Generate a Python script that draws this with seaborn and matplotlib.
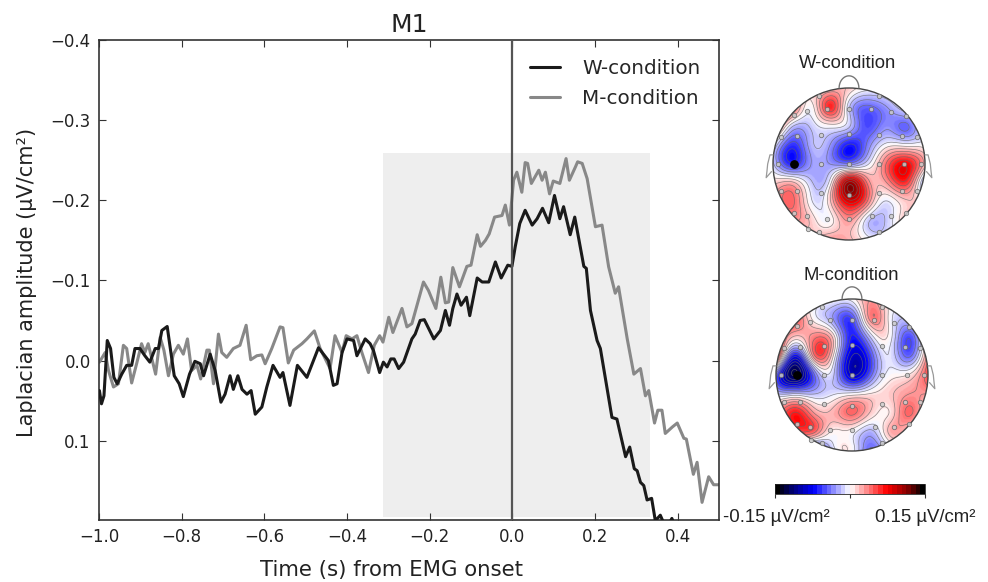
import numpy as np
import pandas as pd
import matplotlib
matplotlib.use("Agg")
import matplotlib.pyplot as plt
from matplotlib.colors import LinearSegmentedColormap, Normalize
from matplotlib.patches import Circle, Rectangle
from matplotlib.cm import ScalarMappable
import seaborn as sns

# ---- waveform data -------------------------------------------------------
time_w = [-.999,-.994,-.988,-.980,-.972,-.964,-.956,-.945,-.933,-.921,-.913,-.901,-.889,-.877,-.864,-.856,-.848,-.835,-.828,-.818,
          -.806,-.796,-.781,-.768,-.755,-.747,-.731,-.719,-.705,-.695,-.683,-.675,-.664,-.654,-.642,-.632,-.622,-.606,-.594,-.579,
          -.562,-.555,-.538,-.520,-.497,-.469,-.445,-.433,-.424,-.412,-.400,-.384,-.376,-.356,-.344,-.336,-.321,-.312,-.303,-.294,
          -.286,-.275,-.263,-.243,-.235,-.223,-.213,-.190,-.174,-.162,-.152,-.144,-.134,-.124,-.111,-.103,-.085,-.073,-.057,-.041,
          -.027,-.011,-.001,.007,.018,.031,.048,.060,.073,.088,.102,.115,.124,.140,.151,.173,.179,.189,.205,.213,
          .241,.253,.274,.284,.295,.302,.310,.318,.326,.337,.346,.358,.368,.378,.386,.392,.42]
amp_w = [.0375,.054,.044,-.025,-.015,.021,.029,.017,.006,.006,-.015,-.015,-.006,.002,-.015,-.015,-.0375,-.0425,-.017,.019,
         .029,.045,.017,.001,.004,.019,-.008,.0125,.052,.042,.019,.036,.019,.036,.042,.0375,.067,.058,.033,.006,
         .021,.015,.056,.006,.021,-.016,0,.031,.029,-.010,-.027,-.025,-.006,-.027,-.021,-.0125,.015,.002,.008,-.002,
         -.002,.010,.002,-.027,-.033,-.050,-.051,-.027,-.0375,-.0625,-.044,-.065,-.083,-.069,-.079,-.056,-.103,-.098,-.098,-.123,
         -.103,-.119,-.1175,-.142,-.171,-.1875,-.169,-.177,-.190,-.172,-.206,-.177,-.192,-.157,-.179,-.1175,-.115,-.0625,-.025,-.015,
         .071,.073,.120,.108,.135,.1375,.152,.156,.174,.172,.200,.193,.205,.205,.197,.205,.23]
time_m = [-.999,-.985,-.977,-.965,-.953,-.941,-.933,-.921,-.909,-.897,-.889,-.881,-.863,-.852,-.843,-.832,-.820,-.808,-.796,-.786,
          -.776,-.763,-.754,-.739,-.733,-.723,-.711,-.703,-.691,-.675,-.659,-.644,-.633,-.618,-.606,-.598,-.582,-.562,-.555,-.542,
          -.529,-.509,-.497,-.479,-.465,-.441,-.429,-.412,-.402,-.388,-.376,-.364,-.348,-.334,-.321,-.313,-.299,-.289,-.267,-.255,
          -.243,-.215,-.203,-.185,-.173,-.162,-.154,-.144,-.128,-.110,-.100,-.085,-.077,-.065,-.056,-.043,-.025,-.017,-.007,.003,
          .011,.023,.031,.037,.046,.064,.072,.080,.090,.099,.115,.130,.138,.153,.158,.169,.181,.201,.217,.233,
          .249,.257,.278,.294,.310,.322,.330,.344,.352,.362,.370,.387,.399,.415,.421,.438,.447,.459,.475,.487,.499]
amp_m = [.002,-.010,.0125,.033,.029,-.019,-.015,.028,.004,-.021,-.010,-.021,.017,-.029,-.013,.019,-.008,-.019,-.008,-.027,
         .0125,.006,.023,-.013,-.013,.029,-.033,-.010,-.004,-.015,-.019,-.044,-.001,-.006,-.007,.004,-.015,-.042,-.041,.003,
         -.013,-.021,-.027,-.037,-.015,.010,-.031,-.010,-.031,-.027,-.031,-.010,.015,-.019,-.031,-.023,-.054,-.035,-.065,-.042,
         -.046,-.098,-.0875,-.065,-.104,-.072,-.073,-.116,-.092,-.1175,-.119,-.157,-.1425,-.150,-.158,-.179,-.181,-.194,-.169,-.225,
         -.235,-.210,-.247,-.246,-.221,-.2375,-.225,-.235,-.208,-.224,-.221,-.252,-.225,-.242,-.248,-.246,-.227,-.167,-.169,-.117,
         -.084,-.092,-.027,.017,.010,.044,.0375,.078,.062,.062,.091,.083,.078,.097,.098,.142,.127,.177,.145,.155,.155]
series_names = ["W-condition", "M-condition"]
xticks_main = [-1.0, -0.8, -0.6, -0.4, -0.2, 0.0, 0.2, 0.4]
yticks_main = [-0.4, -0.3, -0.2, -0.1, 0.0, 0.1]

# ---- scalp maps: normalised amplitude (+-1 = +-0.15 uV/cm2), on a 9x9 grid, top row first
grid_axis = [-1, -.75, -.5, -.25, 0, .25, .5, .75, 1]
scalp_w = [[0,0,0,.12,.1,0,0,0,0],
           [.3,.3,0,.42,-.1,-.3,-.2,-.05,0],
           [.4,-.1,-.1,0,-.1,-.35,-.22,-.3,-.05],
           [0,-.4,-.15,-.2,-.45,-.25,0,0,0],
           [-.1,-.42,-.2,-.2,-.25,-.05,.3,.5,.15],
           [.1,.15,-.1,0,.72,.25,.2,.4,-.2],
           [.15,.3,-.02,.1,.55,.25,-.05,.1,0],
           [0,.2,.1,0,.2,-.1,-.1,.1,0],
           [0,0,.1,.2,.15,0,-.05,0,0]]
scalp_m = [[0,0,0,0,0,.2,0,0,0],
           [.2,.3,0,-.2,-.35,.25,0,-.1,.1],
           [.5,.1,.25,.1,-.45,-.1,0,-.35,.15],
           [.5,-.5,.25,.05,-.6,-.35,-.05,-.3,.25],
           [-.3,-.85,-.3,-.1,-.6,-.3,0,.05,.35],
           [-.1,-.1,-.12,-.05,0,.05,.1,.2,.2],
           [.2,.45,.2,.15,.3,.1,.05,.3,.05],
           [.2,.35,.3,.02,0,-.15,.15,.1,0],
           [0,0,-.5,-.1,0,-.3,-.1,0,0]]
sensor_x = [-.4,0,.4,-.55,-.29,.29,.55,.75,-.73,-.9,-.68,-.37,0,.39,.7,.9,-.94,-.37,0,.39,.73,.95,
            -.9,-.68,-.37,0,.39,.7,.9,-.73,-.55,-.29,0,.3,.55,.75,-.4,.4,-.54]
sensor_y = [.89,.73,.89,.7,.72,.72,.69,.63,.65,.35,.37,.38,.39,.38,.37,.35,0,0,0,0,0,0,
            -.35,-.36,-.38,-.41,-.38,-.36,-.35,-.64,-.68,-.73,-.73,-.68,-.68,-.64,-.89,-.89,-.85]
active_sensor = (-.72, 0.0)
map_titles = ["W-condition", "M-condition"]
cbar_labels = ["-0.15 µV/cm²", "0.15 µV/cm²"]
cbar_range = (-0.15, 0.15)

# ---- style ---------------------------------------------------------------
sns.set_style("white")
plt.rcParams["font.family"] = ["DejaVu Sans"]
W, H = 988, 582
fig = plt.figure(figsize=(W / 100, H / 100), dpi=100)

def px_axes(x0, y0, x1, y1, **kw):
    return fig.add_axes([x0 / W, 1 - y1 / H, (x1 - x0) / W, (y1 - y0) / H], **kw)

# ---- main panel ----------------------------------------------------------
ax = px_axes(99, 40, 719, 520)
ax.add_patch(Rectangle((-.312, -.259), .644, .454, color="#eeeeee", lw=0, zorder=0))
df_w = pd.DataFrame({"t": time_w, "a": amp_w})
df_m = pd.DataFrame({"t": time_m, "a": amp_m})
sns.lineplot(data=df_m, x="t", y="a", ax=ax, color="#888888", lw=2.2, estimator=None, sort=False, zorder=2,
             label=series_names[1], solid_joinstyle="round")
sns.lineplot(data=df_w, x="t", y="a", ax=ax, color="#1a1a1a", lw=2.2, estimator=None, sort=False, zorder=3,
             label=series_names[0], solid_joinstyle="round")
ax.axvline(0, color="#555555", lw=1.6, zorder=4)
ax.set_xlim(-1.0, 0.5)
ax.set_ylim(0.199, -0.4)
ax.set_xticks(xticks_main)
ax.set_yticks(yticks_main)
ax.tick_params(direction="in", bottom=True, left=True, top=True, right=True, length=5, width=0.8,
               labelsize=12, pad=6, color="#333333", labelcolor="#222222")
for s in ax.spines.values():
    s.set_color("#333333"); s.set_linewidth(1.2)
ax.set_xlabel("Time (s) from EMG onset", fontsize=15.3, color="#222222")
ax.xaxis.set_label_coords(0.472, -0.083)
ax.set_ylabel("Laplacian amplitude (µV/cm²)", fontsize=15, color="#222222")
ax.yaxis.set_label_coords(-0.1, 0.495)
ax.set_title("M1", fontsize=18, pad=6, color="#222222")
h, l = ax.get_legend_handles_labels()
ax.legend(h[::-1], l[::-1], frameon=False, fontsize=14.3, loc="upper right",
          bbox_to_anchor=(1.0, 1.0), handlelength=1.5, labelspacing=0.55, handletextpad=1.1, borderaxespad=0.55)

# ---- scalp maps ----------------------------------------------------------
cmap = LinearSegmentedColormap.from_list(
    "scalp", [(0, "#000000"), (.1, "#00006e"), (.25, "#0000ff"), (.5, "#ffffff"),
              (.75, "#ff0000"), (.9, "#800000"), (1, "#000000")], N=64)
norm = Normalize(-1, 1)

gx, gy = np.meshgrid(grid_axis, grid_axis[::-1])
nodes = np.column_stack([gx.ravel(), gy.ravel()])
fine = np.linspace(-1, 1, 240)
fx, fy = np.meshgrid(fine, fine)
def upsample(grid):
    v = np.asarray(grid, float).ravel()
    d = np.linalg.norm(nodes[:, None] - nodes[None], axis=2)
    w = np.linalg.solve(d ** 3, v)
    q = np.column_stack([fx.ravel(), fy.ravel()])
    dq = np.linalg.norm(q[:, None] - nodes[None], axis=2)
    return (dq ** 3 @ w).reshape(fx.shape)

def scalp(grid, cx, cy, r, title):
    pad = 1.3
    a = px_axes(cx - r * pad, cy - r * pad, cx + r * pad, cy + r * pad)
    a.set_xlim(-pad, pad); a.set_ylim(-pad, pad); a.axis("off")
    z = upsample(grid)
    clip = Circle((0, 0), 1, transform=a.transData)
    im = a.imshow(z, extent=(-1, 1, -1, 1), origin="lower", cmap=cmap, norm=norm, interpolation="bilinear", zorder=1)
    im.set_clip_path(clip)
    cs = a.contour(fx, fy, z, levels=np.arange(-1, 1.01, .08), colors="#666666", linewidths=.5,
                   linestyles="solid", alpha=.75, zorder=2)
    cs.set_clip_path(clip)
    a.add_patch(Circle((0, 0), 1, fill=False, ec="#444444", lw=1.0, zorder=3))
    nose_t = np.linspace(0, np.pi, 40)
    a.plot(.13 * np.cos(nose_t), 1.0 + .16 * np.sin(nose_t), color="#777777", lw=1, zorder=3)
    for side in (-1, 1):
        a.plot(side * np.array([1, 1.04, 1.07, 1.08, 1.09, 1.02]), [.12, .12, 0, -.1, -.18, -.1], color="#999999", lw=.9, zorder=3)
    a.scatter(sensor_x, sensor_y, s=10, fc="#cccccc", ec="#666666", lw=.6, alpha=.85, zorder=4)
    a.scatter(*active_sensor, s=28, c="black", zorder=5)
    fig.text((cx - 1) / W, 1 - (cy - r - 24) / H, title, ha="center", va="center", fontsize=13.3,
             family="Liberation Sans", color="#222222")

scalp(scalp_w, 849, 164, 76, map_titles[0])
scalp(scalp_m, 852, 375, 76, map_titles[1])

# ---- colour bar ----------------------------------------------------------
cax = px_axes(775, 484, 925, 494)
sm = ScalarMappable(norm=Normalize(*cbar_range), cmap=LinearSegmentedColormap.from_list("bar", cmap(np.linspace(0, 1, 64)), N=32))
cb = fig.colorbar(sm, cax=cax, orientation="horizontal", ticks=[cbar_range[0], 0, cbar_range[1]])
cb.ax.tick_params(length=3, width=.8, labelbottom=False, color="#333333")
cb.outline.set_linewidth(.6)
fig.text(776 / W, 1 - 517 / H, cbar_labels[0], ha="center", va="center", fontsize=13.4, family="Liberation Sans", color="#222222")
fig.text(925 / W, 1 - 517 / H, cbar_labels[1], ha="center", va="center", fontsize=13.4, family="Liberation Sans", color="#222222")

fig.savefig("out.png", dpi=100)
